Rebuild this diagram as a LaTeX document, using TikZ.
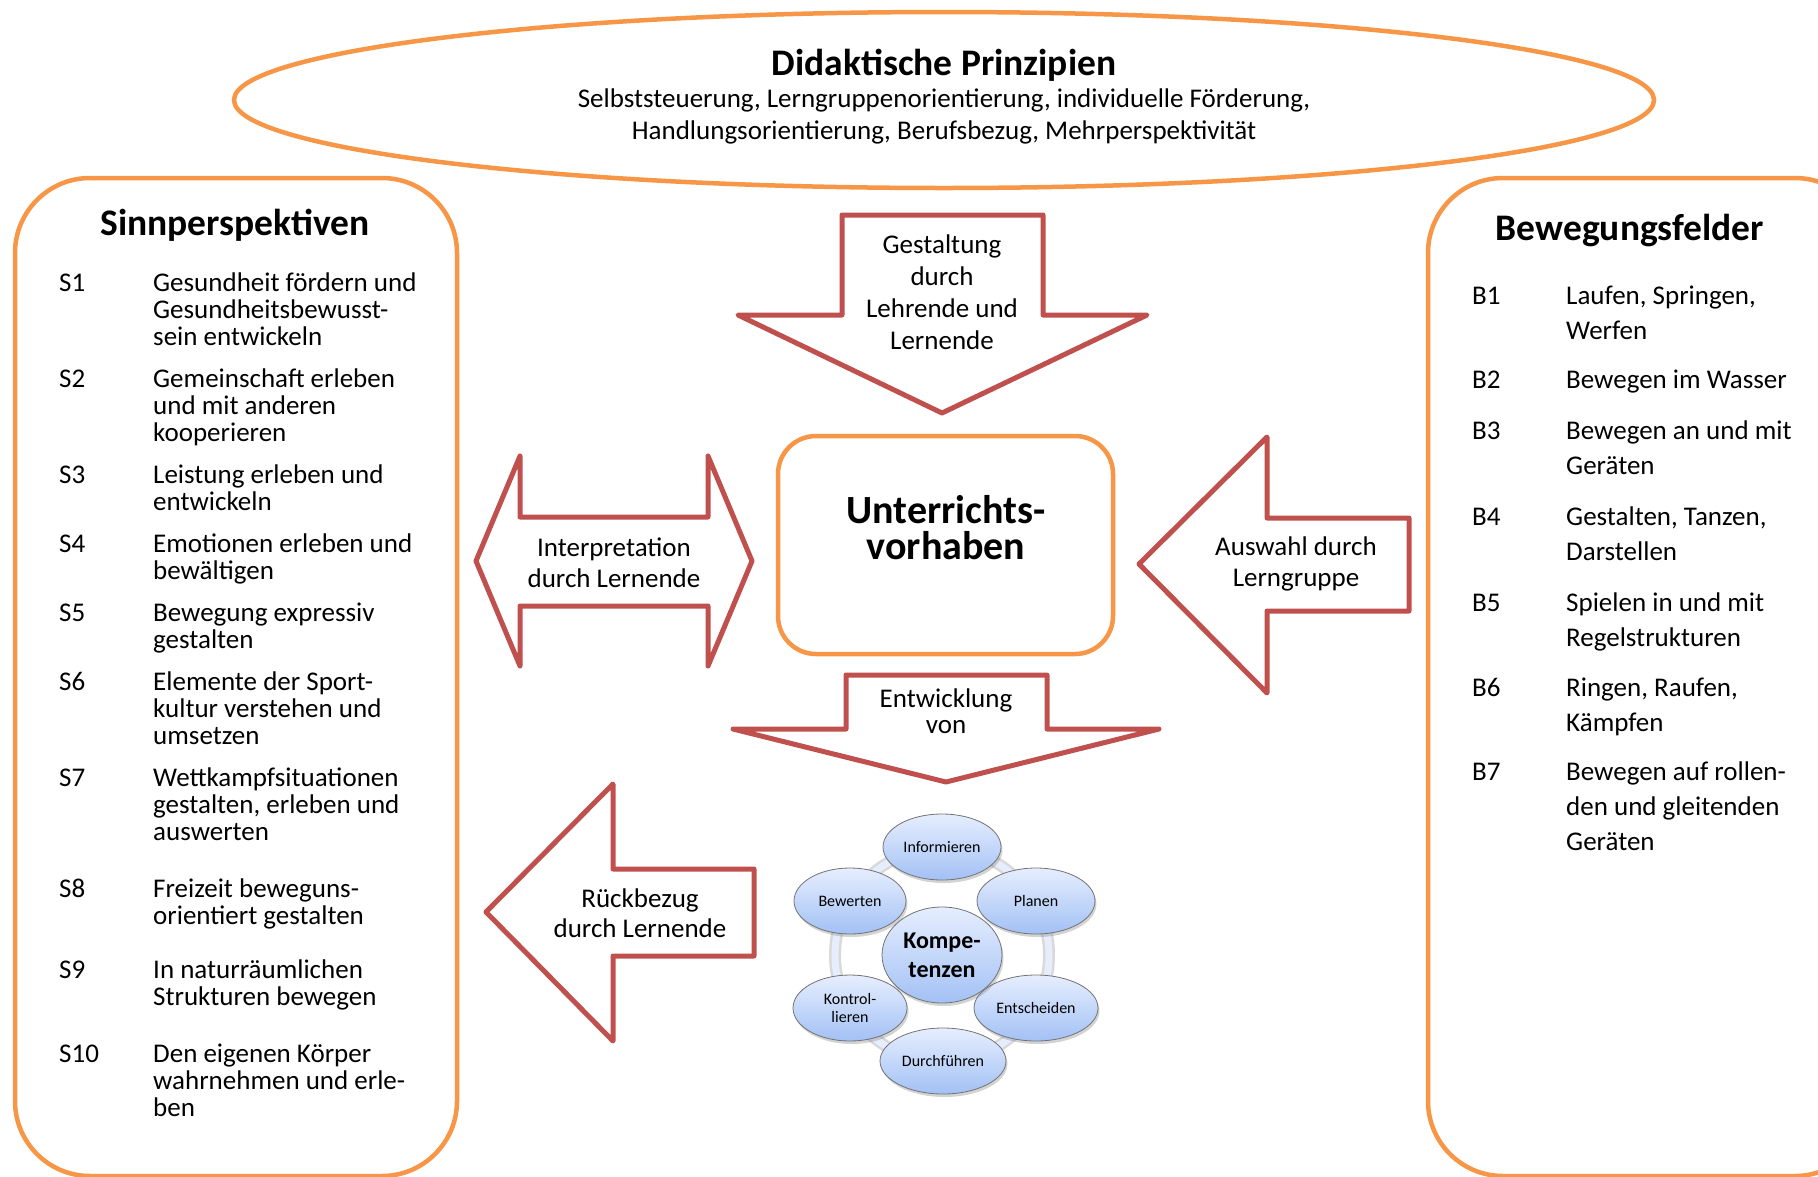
\documentclass[tikz,border=0pt]{standalone}
\usepackage{fontspec}
\setmainfont{Carlito}
\usetikzlibrary{shapes.geometric,shadows}
\definecolor{rahmen}{HTML}{F79646}
\definecolor{pfeilrot}{HTML}{C0504D}
\definecolor{kbhell}{HTML}{E6EEFE}
\definecolor{kbdunkel}{HTML}{A3C1F5}
\tikzset{
  kasten/.style={draw=rahmen,line width=4.5pt},
  pfeil/.style={draw=pfeilrot,line width=5pt,line join=round,fill=white},
  ptext/.style={font=\fontsize{27}{32}\selectfont,align=center,inner sep=0pt,anchor=base},
  liste/.style={font=\fontsize{27}{27}\selectfont,align=left,inner sep=0pt,anchor=base west},
  bliste/.style={font=\fontsize{27}{35}\selectfont,align=left,inner sep=0pt,anchor=base west},
  titel/.style={font=\fontsize{37.5}{40}\selectfont\bfseries,inner sep=0pt,anchor=base},
  kreis/.style={ellipse,draw=black!55,line width=0.8pt,top color=kbhell,bottom color=kbdunkel,
    drop shadow={opacity=0.35,shadow xshift=1.5pt,shadow yshift=-3pt},
    minimum width=118pt,minimum height=66pt,inner sep=0pt,
    font=\fontsize{16}{18}\selectfont,align=center}
}
\begin{document}
\begin{tikzpicture}[x=1pt,y=-1pt]
  \useasboundingbox (0,0) rectangle (1818,1176);

  % Didaktische Prinzipien
  \draw[kasten] (944,100) ellipse (710 and 88);
  \path (944,75) node[titel] (dtitel) {Didaktische Prinzipien};
  \path (944,139) node[ptext] (dtext)
    {Selbststeuerung, Lerngruppenorientierung, individuelle Förderung,\\
     Handlungsorientierung, Berufsbezug, Mehrperspektivität};

  % Kaesten
  \node[kasten,rounded corners=75pt,minimum width=442pt,minimum height=998pt] (sinn) at (236,677) {};
  \node[kasten,rounded corners=75pt,minimum width=442pt,minimum height=998pt] (bewf) at (1649,677) {};
  \node[kasten,rounded corners=38pt,minimum width=335pt,minimum height=218pt] (uv) at (945.5,545) {};
  \path (946,559) node[titel,font=\fontsize{40}{36}\selectfont\bfseries,align=center] (uvtext) {Unterrichts-\\vorhaben};

  \path (235,235) node[titel] (sinntitel) {Sinnperspektiven};
  \path (1630,240) node[titel] (bewftitel) {Bewegungsfelder};

  % Sinnperspektiven (\y erste Zeile, \z letzte Zeile)
  \foreach \k/\y/\z/\t in {
      S1/291/345/{Gesundheit fördern und\\Gesundheitsbewusst-\\sein entwickeln},
      S2/387/441/{Gemeinschaft erleben\\und mit anderen\\kooperieren},
      S3/483/510/{Leistung erleben und\\entwickeln},
      S4/552/579/{Emotionen erleben und\\bewältigen},
      S5/621/648/{Bewegung expressiv\\gestalten},
      S6/690/744/{Elemente der Sport-\\kultur verstehen und\\umsetzen},
      S7/786/840/{Wettkampfsituationen\\gestalten, erleben und\\auswerten},
      S8/897/924/{Freizeit beweguns-\\orientiert gestalten},
      S9/978/1005/{In naturräumlichen\\Strukturen bewegen},
      S10/1062/1116/{Den eigenen Körper\\wahrnehmen und erle-\\ben}}
    {
      \path (59,\y) node[liste] (l\k) {\k};
      \path (153,\z) node[liste] (t\k) {\t};
    }

  % Bewegungsfelder
  \foreach \k/\y/\z/\t in {
      B1/304/339/{Laufen, Springen,\\Werfen},
      B2/388/388/{Bewegen im Wasser},
      B3/439/474/{Bewegen an und mit\\Geräten},
      B4/525/560/{Gestalten, Tanzen,\\Darstellen},
      B5/611/646/{Spielen in und mit\\Regelstrukturen},
      B6/696/731/{Ringen, Raufen,\\Kämpfen},
      B7/780/850/{Bewegen auf rollen-\\den und gleitenden\\Geräten}}
    {
      \path (1472,\y) node[bliste] (l\k) {\k};
      \path (1566,\z) node[bliste] (t\k) {\t};
    }

  % Pfeile
  \draw[pfeil] (842,215) -- (1043,215) -- (1043,315) -- (1147,315) -- (942,413)
    -- (738,315) -- (842,315) -- cycle;
  \path (942,349) node[ptext] (gest) {Gestaltung\\durch\\Lehrende und\\Lernende};

  \draw[pfeil] (476,561) -- (520,456) -- (520,517) -- (708,517) -- (708,456) -- (752,561)
    -- (708,666) -- (708,606) -- (520,606) -- (520,666) -- cycle;
  \path (614,587) node[ptext,font=\fontsize{27}{31}\selectfont] (interp) {Interpretation\\durch Lernende};

  \draw[pfeil] (1139,564) -- (1267,437) -- (1267,518) -- (1409,518) -- (1409,611)
    -- (1267,611) -- (1267,693) -- cycle;
  \path (1296,586) node[ptext,font=\fontsize{27}{31}\selectfont] (ausw) {Auswahl durch\\Lerngruppe};

  \draw[pfeil] (846,675) -- (1047,675) -- (1047,729) -- (1159,729) -- (946,782)
    -- (733,729) -- (846,729) -- cycle;
  \path (946,733) node[ptext,font=\fontsize{27}{26}\selectfont] (entw) {Entwicklung\\von};

  \draw[pfeil] (486,912) -- (613,784) -- (613,869) -- (754,869) -- (754,956)
    -- (613,956) -- (613,1041) -- cycle;
  \path (640,937) node[ptext,font=\fontsize{27}{30}\selectfont] (rueck) {Rückbezug\\durch Lernende};

  % Kompetenzen
  \draw[line width=12pt,black!15] (942,955) circle (107);
  \draw[line width=7pt,kbhell] (942,955) circle (107);
  \node[kreis] (inf) at (942,847) {Informieren};
  \node[kreis,minimum width=112pt] (bew) at (850,901) {Bewerten};
  \node[kreis] (plan) at (1036,901) {Planen};
  \node[kreis,minimum width=114pt] (kontr) at (850,1008) {Kontrol-\\lieren};
  \node[kreis,minimum width=124pt] (ents) at (1036,1008) {Entscheiden};
  \node[kreis,minimum width=126pt] (durch) at (943,1061) {Durchführen};
  \node[kreis,minimum width=120pt,minimum height=96pt,font=\fontsize{24}{29}\selectfont\bfseries]
    (komp) at (942,955) {Kompe-\\tenzen};
\end{tikzpicture}
\end{document}
